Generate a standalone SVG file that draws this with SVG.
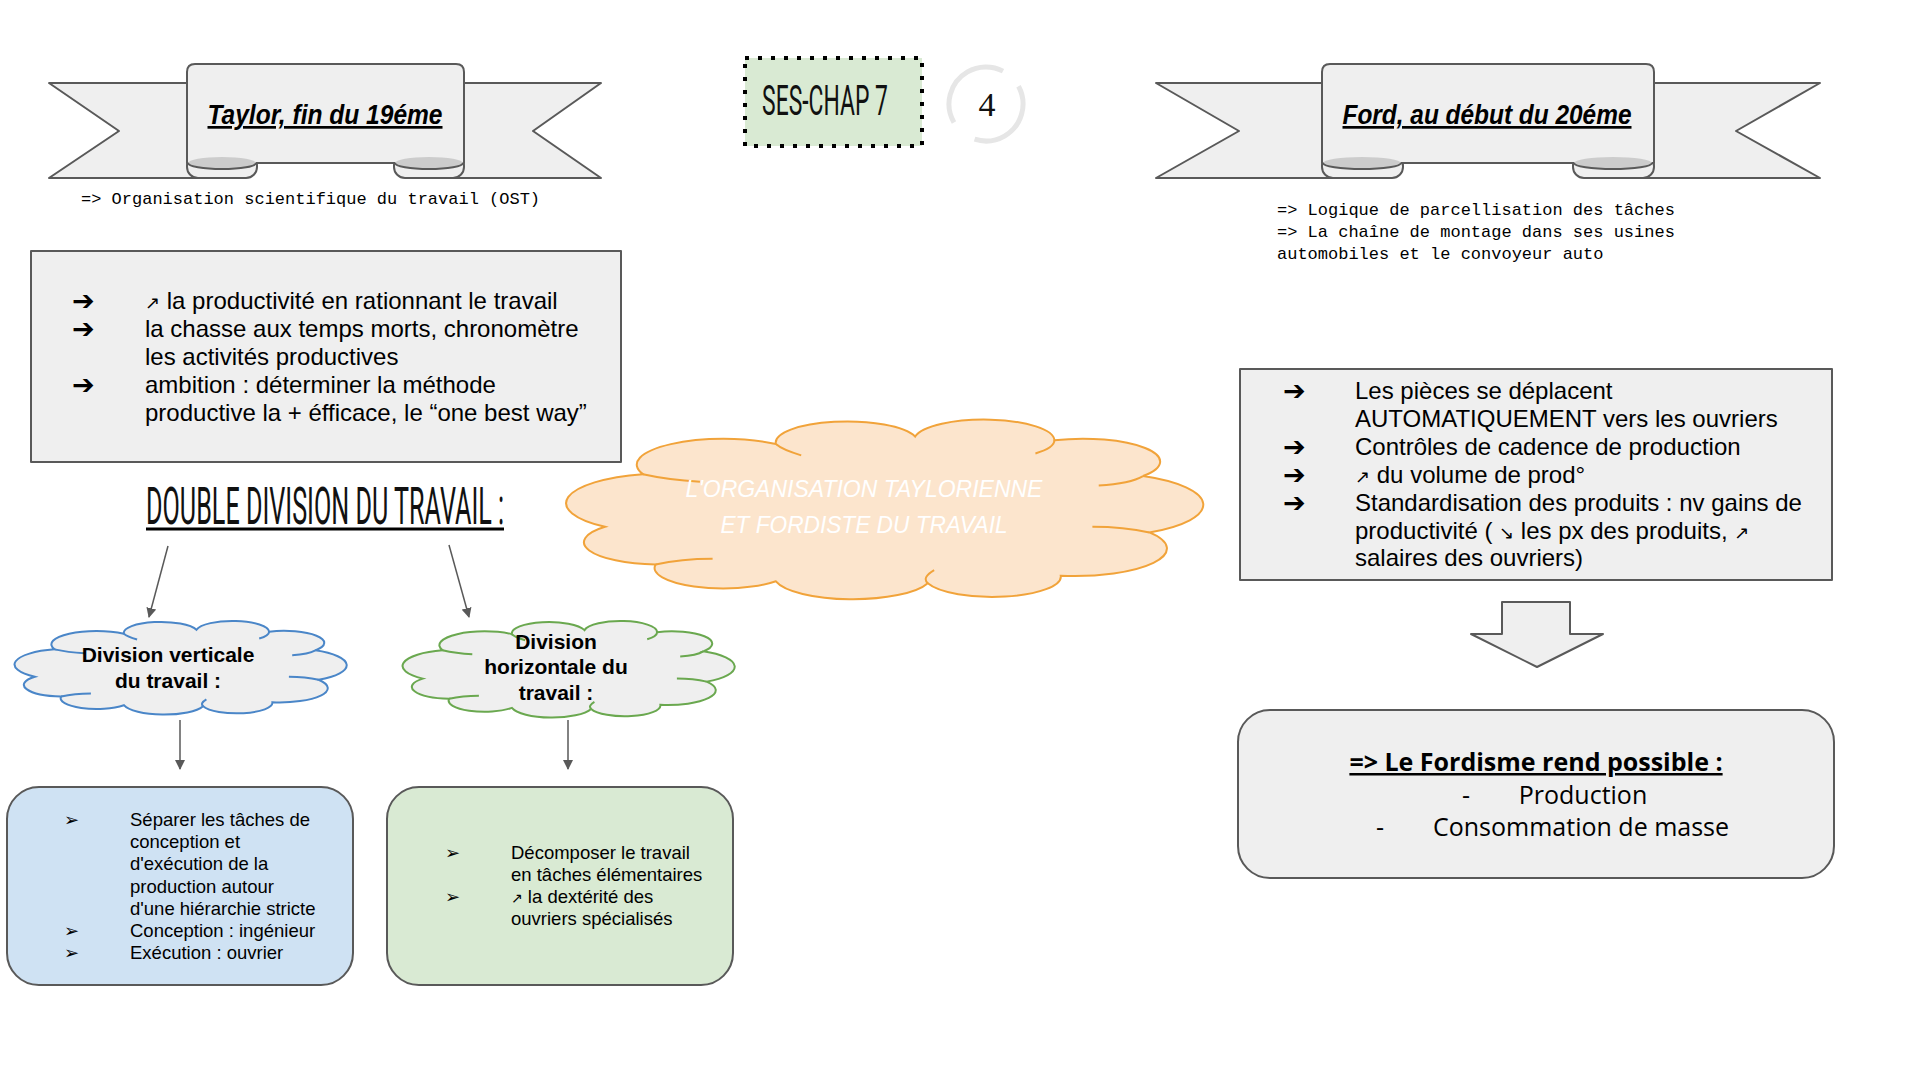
<svg xmlns="http://www.w3.org/2000/svg" xmlns:xlink="http://www.w3.org/1999/xlink" width="1920" height="1080" viewBox="0 0 1920 1080">
<style>
.shape{fill:#efefef;stroke:#595959;stroke-width:2;stroke-linejoin:round}
.mono{font-family:"Liberation Mono","DejaVu Sans Mono",monospace;font-size:17px;fill:#000}
.body{font-family:"Liberation Sans",Arial,sans-serif;fill:#000}
.sym{font-family:"DejaVu Sans",sans-serif}
.title{font-family:"Liberation Sans",sans-serif;font-style:italic;font-weight:bold;font-size:27px;fill:#000;text-decoration:underline}
.narrow{font-family:Roboto,"Liberation Sans",sans-serif;fill:#111}
.conn{stroke:#595959;stroke-width:1.5;fill:none}
.fo{font-family:"Open Sans","Liberation Sans",sans-serif;font-size:25px;fill:#000}
</style>
<defs>
<marker id="ah" viewBox="0 0 10 10" refX="9" refY="5" markerWidth="10" markerHeight="10" orient="auto" markerUnits="userSpaceOnUse">
<path d="M0,0 L10,5 L0,10 z" fill="#595959"/>
</marker>
<path id="cloudOuter" vector-effect="non-scaling-stroke" d="M6,60 A15.9,15.9 0 0 1 12,32 A13.7,13.7 0 0 1 33,16 A11.25,11.25 0 0 1 55,12 A11.1,11.1 0 0 1 77,14 A12.2,12.2 0 0 1 91,33 A17,17 0 0 1 92,63 A14.6,14.6 0 0 1 78,86 A10.8,10.8 0 0 1 57,90 A12.5,12.5 0 0 1 33,89 A10.9,10.9 0 0 1 14,80 A11.8,11.8 0 0 1 6,60 Z"/>
<path id="cloudInner" vector-effect="non-scaling-stroke" fill="none" d="M12,32 q4,3 9,4 M33,16 q1,3 4,6 M77,14 q0,4 -3,7 M91,33 q-2,4 -7,5 M92,63 q-4,-3 -9,-3 M57,90 q-1,-3 1,-7 M14,80 q4,-3 9,-3"/>
</defs>

<!-- Taylor banner -->
<g id="banner-taylor">
<path class="shape" d="M49,83 L200,83 L200,178 L49,178 L119,131 Z"/>
<path class="shape" d="M601,83 L450,83 L450,178 L601,178 L533,131 Z"/>
<rect class="shape" x="187" y="155" width="70" height="23" rx="11"/>
<rect class="shape" x="394" y="155" width="70" height="23" rx="11"/>
<path class="shape" d="M187,163 L187,72 Q187,64 195,64 L456,64 Q464,64 464,72 L464,163 Z"/>
<ellipse cx="222" cy="163" rx="34" ry="6" fill="#cccccc"/>
<ellipse cx="429" cy="163" rx="34" ry="6" fill="#cccccc"/>
<path d="M188,163 A34,6 0 0 0 256,163 M395,163 A34,6 0 0 0 463,163" fill="none" stroke="#595959" stroke-width="2"/>
<text class="title" x="325" y="124" text-anchor="middle" textLength="235" lengthAdjust="spacingAndGlyphs">Taylor, fin du 19éme</text>
</g>
<g id="ost">
<text class="mono" x="81" y="204">=&gt; Organisation scientifique du travail (OST)</text>
</g>

<!-- SES CHAP -->
<g id="chap">
<rect x="745" y="58" width="177" height="88" fill="#d9ead3" stroke="#000" stroke-width="4" stroke-dasharray="4 9"/>
<text class="narrow" transform="translate(825,115) scale(0.55,1)" x="0" y="0" font-size="42" text-anchor="middle" textLength="229" lengthAdjust="spacingAndGlyphs">SES-CHAP 7</text>
</g>
<g id="page-num">
<circle cx="986" cy="104" r="37" fill="none" stroke="#e6e6e6" stroke-width="5" stroke-dasharray="95 22 88 27" transform="rotate(150 986 104)"/>
<text x="987" y="116" font-family="'Liberation Serif',serif" font-size="34" text-anchor="middle" fill="#111">4</text>
</g>

<!-- Ford banner -->
<g id="banner-ford">
<path class="shape" d="M1156,83 L1335,83 L1335,178 L1156,178 L1239,131 Z"/>
<path class="shape" d="M1820,83 L1640,83 L1640,178 L1820,178 L1736,131 Z"/>
<rect class="shape" x="1322" y="155" width="81" height="23" rx="11"/>
<rect class="shape" x="1573" y="155" width="81" height="23" rx="11"/>
<path class="shape" d="M1322,163 L1322,72 Q1322,64 1330,64 L1646,64 Q1654,64 1654,72 L1654,163 Z"/>
<ellipse cx="1362" cy="163" rx="39" ry="6" fill="#cccccc"/>
<ellipse cx="1613" cy="163" rx="39" ry="6" fill="#cccccc"/>
<path d="M1323,163 A39,6 0 0 0 1401,163 M1574,163 A39,6 0 0 0 1652,163" fill="none" stroke="#595959" stroke-width="2"/>
<text class="title" x="1487" y="124" text-anchor="middle" textLength="289" lengthAdjust="spacingAndGlyphs">Ford, au début du 20éme</text>
</g>
<g id="ford-notes">
<text class="mono" x="1277" y="215">=&gt; Logique de parcellisation des tâches</text>
<text class="mono" x="1277" y="237">=&gt; La chaîne de montage dans ses usines</text>
<text class="mono" x="1277" y="259">automobiles et le convoyeur auto</text>
</g>

<!-- Taylor box -->
<g id="taylor-box">
<rect class="shape" x="31" y="251" width="590" height="211"/>
<g class="body" font-size="24">
<text class="sym" x="72" y="310" font-size="27">➔</text>
<text x="145" y="309"><tspan class="sym" font-size="18">↗</tspan> la productivité en rationnant le travail</text>
<text class="sym" x="72" y="338" font-size="27">➔</text>
<text x="145" y="337">la chasse aux temps morts, chronomètre</text>
<text x="145" y="365">les activités productives</text>
<text class="sym" x="72" y="394" font-size="27">➔</text>
<text x="145" y="393">ambition : déterminer la méthode</text>
<text x="145" y="421">productive la + éfficace, le “one best way”</text>
</g>
</g>

<!-- Double division title -->
<g id="double-division">
<text class="narrow" transform="translate(146,524) scale(0.45,1)" x="0" y="0" font-size="52" textLength="796" lengthAdjust="spacingAndGlyphs">DOUBLE DIVISION DU TRAVAIL :</text>
<line x1="146" y1="529" x2="504" y2="529" stroke="#000" stroke-width="3"/>
</g>

<!-- Central cloud -->
<g id="central-cloud">
<g transform="translate(567,414) scale(6.33,1.88)" stroke-width="2">
<use xlink:href="#cloudOuter" fill="#fce5cd" stroke="#f1a33a"/>
<use xlink:href="#cloudInner" stroke="#f1a33a"/>
</g>
<text transform="translate(864,497) scale(0.8,1)" x="0" y="0" font-family="'Liberation Sans',sans-serif" font-style="italic" font-size="24" fill="#ffffff" text-anchor="middle" textLength="446" lengthAdjust="spacingAndGlyphs">L'ORGANISATION TAYLORIENNE</text>
<text transform="translate(864,533) scale(0.8,1)" x="0" y="0" font-family="'Liberation Sans',sans-serif" font-style="italic" font-size="24" fill="#ffffff" text-anchor="middle" textLength="359" lengthAdjust="spacingAndGlyphs">ET FORDISTE DU TRAVAIL</text>
</g>

<!-- Division verticale cloud -->
<g id="cloud-verticale">
<g transform="translate(15,618) scale(3.30,0.98)" stroke-width="2">
<use xlink:href="#cloudOuter" fill="#efefef" stroke="#4a86c8"/>
<use xlink:href="#cloudInner" stroke="#4a86c8"/>
</g>
<text class="body" x="168" y="662" font-size="21" font-weight="bold" text-anchor="middle">Division verticale</text>
<text class="body" x="168" y="688" font-size="21" font-weight="bold" text-anchor="middle">du travail :</text>
</g>

<!-- Division horizontale cloud -->
<g id="cloud-horizontale">
<g transform="translate(403,618) scale(3.30,1.01)" stroke-width="2">
<use xlink:href="#cloudOuter" fill="#efefef" stroke="#6aa84f"/>
<use xlink:href="#cloudInner" stroke="#6aa84f"/>
</g>
<text class="body" x="556" y="649" font-size="21" font-weight="bold" text-anchor="middle">Division</text>
<text class="body" x="556" y="674" font-size="21" font-weight="bold" text-anchor="middle">horizontale du</text>
<text class="body" x="556" y="700" font-size="21" font-weight="bold" text-anchor="middle">travail :</text>
</g>

<!-- Blue box -->
<g id="box-verticale">
<rect x="7" y="787" width="346" height="198" rx="32" fill="#cfe2f3" stroke="#595959" stroke-width="2"/>
<g class="body" font-size="18.5">
<text class="sym" x="64" y="826" font-size="18">➢</text>
<text x="130" y="826">Séparer les tâches de</text>
<text x="130" y="848">conception et</text>
<text x="130" y="870">d'exécution de la</text>
<text x="130" y="893">production autour</text>
<text x="130" y="915">d'une hiérarchie stricte</text>
<text class="sym" x="64" y="937" font-size="18">➢</text>
<text x="130" y="937">Conception : ingénieur</text>
<text class="sym" x="64" y="959" font-size="18">➢</text>
<text x="130" y="959">Exécution : ouvrier</text>
</g>
</g>

<!-- Green box -->
<g id="box-horizontale">
<rect x="387" y="787" width="346" height="198" rx="32" fill="#d9ead3" stroke="#595959" stroke-width="2"/>
<g class="body" font-size="18.5">
<text class="sym" x="445" y="859" font-size="18">➢</text>
<text x="511" y="859">Décomposer le travail</text>
<text x="511" y="881">en tâches élémentaires</text>
<text class="sym" x="445" y="903" font-size="18">➢</text>
<text x="511" y="903"><tspan class="sym" font-size="14">↗</tspan> la dextérité des</text>
<text x="511" y="925">ouvriers spécialisés</text>
</g>
</g>

<!-- Ford box -->
<g id="ford-box">
<rect class="shape" x="1240" y="369" width="592" height="211"/>
<g class="body" font-size="24">
<text class="sym" x="1283" y="400" font-size="27">➔</text>
<text x="1355" y="399">Les pièces se déplacent</text>
<text x="1355" y="427">AUTOMATIQUEMENT vers les ouvriers</text>
<text class="sym" x="1283" y="456" font-size="27">➔</text>
<text x="1355" y="455">Contrôles de cadence de production</text>
<text class="sym" x="1283" y="484" font-size="27">➔</text>
<text x="1355" y="483"><tspan class="sym" font-size="18">↗</tspan> du volume de prod°</text>
<text class="sym" x="1283" y="512" font-size="27">➔</text>
<text x="1355" y="511">Standardisation des produits : nv gains de</text>
<text x="1355" y="539">productivité ( <tspan class="sym" font-size="18">↘</tspan> les px des produits, <tspan class="sym" font-size="18">↗</tspan></text>
<text x="1355" y="566">salaires des ouvriers)</text>
</g>
</g>

<!-- Big down arrow -->
<g id="big-arrow">
<polygon class="shape" points="1502,602 1570,602 1570,634 1603,634 1537,667 1471,634 1502,634"/>
</g>

<!-- Fordisme box -->
<g id="fordisme-box">
<rect class="shape" x="1238" y="710" width="596" height="168" rx="32"/>
<text class="fo" x="1536" y="771" font-weight="bold" text-anchor="middle" text-decoration="underline">=&gt; Le Fordisme rend possible :</text>
<text class="fo" x="1466" y="804" text-anchor="middle">-</text>
<text class="fo" x="1583" y="804" text-anchor="middle">Production</text>
<text class="fo" x="1380" y="836" text-anchor="middle">-</text>
<text class="fo" x="1433" y="836">Consommation de masse</text>
</g>

<!-- Connectors -->
<g id="connectors">
<line class="conn" x1="168" y1="546" x2="149" y2="617" marker-end="url(#ah)"/>
<line class="conn" x1="449" y1="545" x2="469" y2="617" marker-end="url(#ah)"/>
<line class="conn" x1="180" y1="720" x2="180" y2="769" marker-end="url(#ah)"/>
<line class="conn" x1="568" y1="720" x2="568" y2="769" marker-end="url(#ah)"/>
</g>
</svg>
